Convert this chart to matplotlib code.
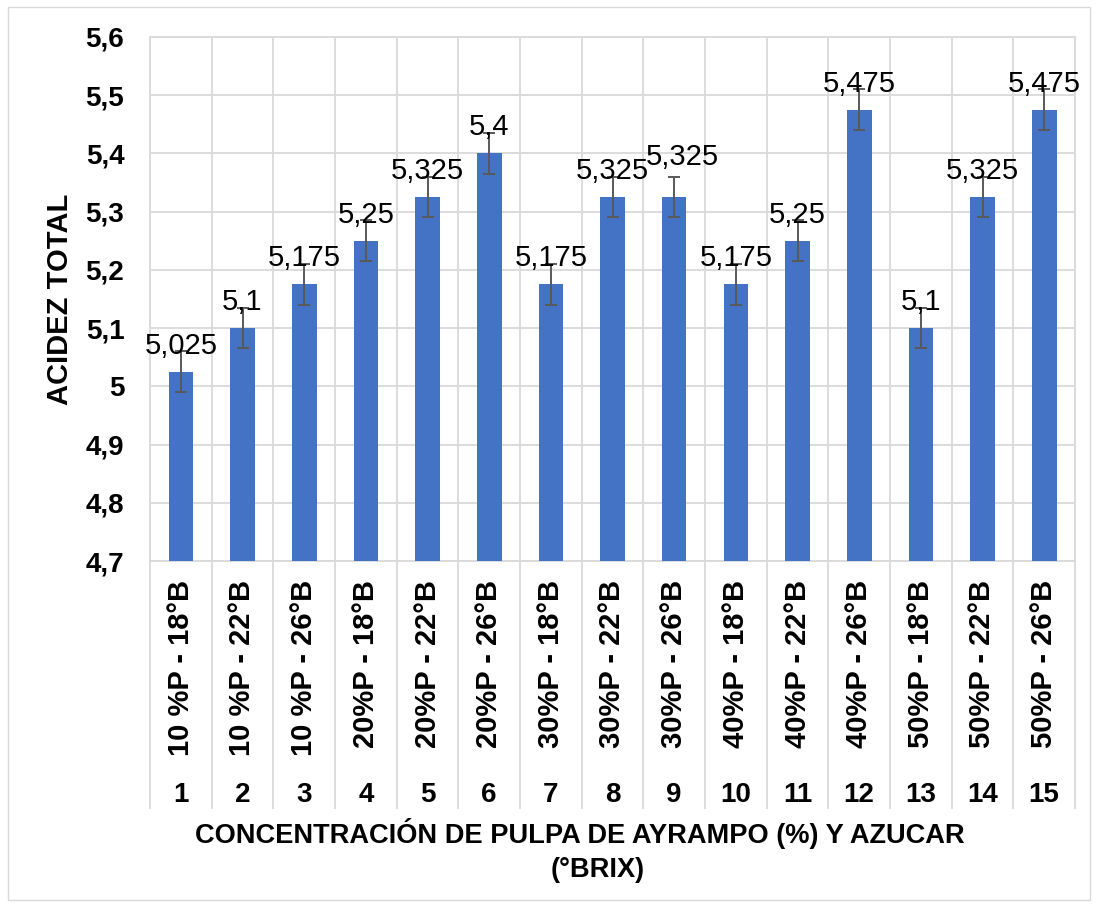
"""Acidez total por tratamiento (pulpa de ayrampo y azucar)."""

import matplotlib.pyplot as plt
from matplotlib.patches import Rectangle
from matplotlib.ticker import FuncFormatter, MultipleLocator
import numpy as np

plt.rcParams["font.family"] = ["Liberation Sans", "DejaVu Sans"]

tratamientos = [
    "10 %P - 18°B", "10 %P - 22°B", "10 %P - 26°B",
    "20%P - 18°B", "20%P - 22°B", "20%P - 26°B",
    "30%P - 18°B", "30%P - 22°B", "30%P - 26°B",
    "40%P - 18°B", "40%P - 22°B", "40%P - 26°B",
    "50%P - 18°B", "50%P - 22°B", "50%P - 26°B",
]
numeros = ["1", "2", "3", "4", "5", "6", "7", "8", "9", "10",
           "11", "12", "13", "14", "15"]
acidez = [5.025, 5.1, 5.175, 5.25, 5.325, 5.4, 5.175, 5.325, 5.325,
          5.175, 5.25, 5.475, 5.1, 5.325, 5.475]
error = [0.035, 0.035, 0.035, 0.035, 0.035, 0.035, 0.035, 0.035, 0.035,
         0.035, 0.035, 0.035, 0.035, 0.035, 0.035]

BAR = "#4472C4"
GRID = "#d9d9d9"
W, H = 1097, 908


def coma(v, _pos=None):
    return f"{v:g}".replace(".", ",")


fig = plt.figure(figsize=(W / 100, H / 100), dpi=100)
ax = fig.add_axes([150 / W, 1 - 561 / H, 925 / W, 524 / H])

x = np.arange(len(acidez))
ax.bar(x, acidez, width=0.4, color=BAR, zorder=3)
ax.errorbar(x, acidez, yerr=error, fmt="none", ecolor="#595959",
            elinewidth=1.4, capsize=4.3, capthick=1.4, zorder=4)

for i, (xi, v) in enumerate(zip(x, acidez)):
    # Excel nudged the 9th label up and right so it clears the 8th
    dx, dy = (6, 23) if i == 8 else (0, 13)
    ax.annotate(coma(round(v, 3)), (xi, v), xytext=(dx, dy),
                textcoords="offset points", ha="center", va="baseline",
                fontsize=21, zorder=5)

ax.set_xlim(-0.5, len(acidez) - 0.5)
ax.set_ylim(4.7, 5.6)
ax.yaxis.set_major_locator(MultipleLocator(0.1))
ax.yaxis.set_major_formatter(FuncFormatter(lambda v, p: coma(round(v, 1))))
ax.set_xticks([])
ax.set_xticks(np.arange(-0.5, len(acidez)), minor=True)
ax.tick_params(axis="x", which="minor", length=0)
ax.tick_params(axis="y", length=0, pad=18.5, labelsize=20)
for lab in ax.get_yticklabels():
    lab.set_fontweight("bold")
ax.grid(axis="y", which="major", color=GRID, lw=1.3, zorder=0)
ax.grid(axis="x", which="minor", color=GRID, lw=1.3, zorder=0)
for s in ax.spines.values():
    s.set_color(GRID)
    s.set_linewidth(1.3)

# multi-level category axis below the plot
tr = ax.get_xaxis_transform()
for b in np.arange(-0.5, len(acidez)):
    ax.plot([b, b], [0, -247 / 524], transform=tr, color=GRID, lw=1.3,
            clip_on=False)
for xi, t, n in zip(x, tratamientos, numeros):
    ax.text(xi, -19 / 524, t, transform=tr, rotation=90, ha="center",
            va="top", fontsize=21, fontweight="bold")
    ax.text(xi, -241 / 524, n, transform=tr, ha="center", va="baseline",
            fontsize=20, fontweight="bold")

fig.text(59.5 / W, 1 - 299 / H, "ACIDEZ TOTAL", rotation=90, ha="center",
         va="center", fontsize=21, fontweight="bold")
fig.text(580 / W, 1 - 843 / H,
         "CONCENTRACIÓN DE PULPA DE AYRAMPO (%) Y AZUCAR",
         ha="center", va="baseline", fontsize=19.6, fontweight="bold")
fig.text(598 / W, 1 - 877 / H, "(°BRIX)", ha="center", va="baseline",
         fontsize=19.6, fontweight="bold")

fig.patches.append(Rectangle((8 / W, 1 - 900 / H), 1082 / W, 893 / H,
                             transform=fig.transFigure, fill=False,
                             edgecolor=GRID, lw=1))

fig.savefig("out.png", dpi=100)
